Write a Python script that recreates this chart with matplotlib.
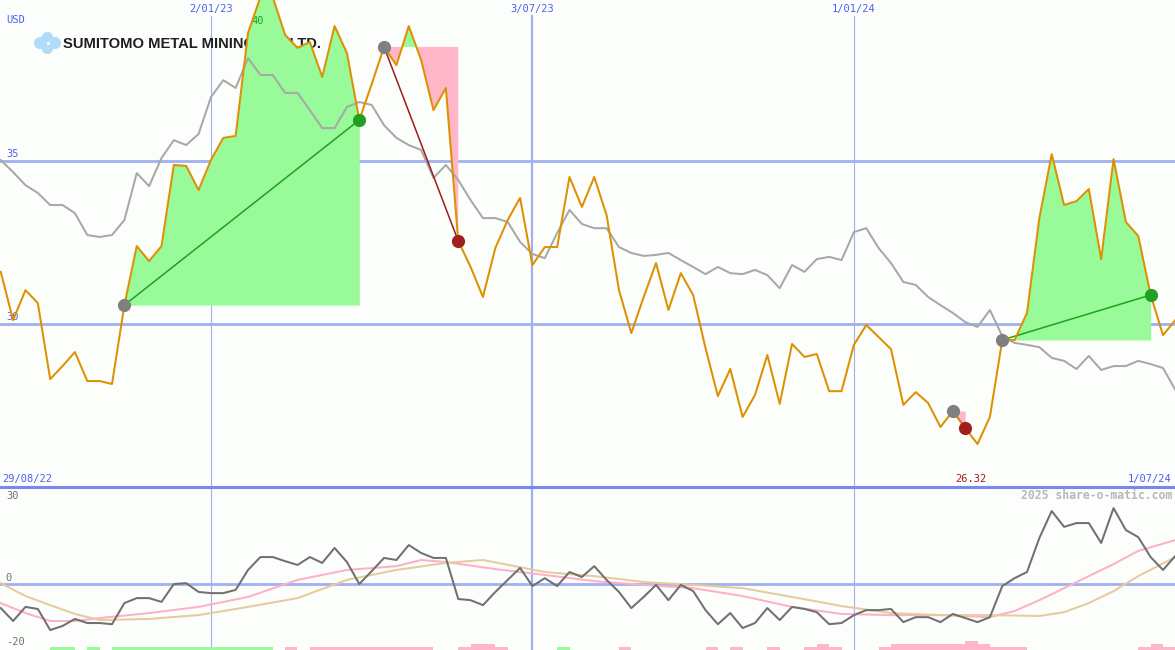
import numpy as np
import matplotlib
matplotlib.use('Agg')
import matplotlib.pyplot as plt
from matplotlib.lines import Line2D

# weekly closes (USD) from 5/09/22, week 0 = 29/08/22
weeks = np.arange(1, 97)
close = [
    31.60, 30.12, 31.04, 30.64, 28.31, 28.71, 29.14, 28.25, 28.25, 28.16, 30.58, 32.39,
    31.93, 32.39, 34.88, 34.85, 34.11, 35.03, 35.71, 35.77, 38.93, 40.03, 40.03, 38.87,
    38.47, 38.65, 37.58, 39.14, 38.31, 36.26, 37.36, 38.50, 37.94, 39.14, 38.10, 36.56,
    37.24, 32.55, 31.75, 30.83, 32.33, 33.19, 33.87, 31.81, 32.36, 32.36, 34.51, 33.59,
    34.51, 33.34, 31.04, 29.72, 30.83, 31.87, 30.43, 31.56, 30.89, 29.26, 27.79, 28.62,
    27.15, 27.82, 29.05, 27.55, 29.39, 28.99, 29.08, 27.94, 27.94, 29.36, 29.97, 29.60,
    29.23, 27.52, 27.91, 27.58, 26.84, 27.33, 26.81, 26.32, 27.15, 29.51, 29.51, 30.34,
    33.25, 35.21, 33.65, 33.77, 34.14, 31.99, 35.06, 33.13, 32.70, 30.89, 29.66, 30.12,
]
avg = [
    35.03, 34.66, 34.26, 34.02, 33.65, 33.65, 33.40, 32.73, 32.67, 32.73, 33.19, 34.63,
    34.23, 35.09, 35.64, 35.49, 35.83, 36.96, 37.48, 37.24, 38.16, 37.64, 37.64, 37.09,
    37.09, 36.56, 36.01, 36.01, 36.66, 36.81, 36.72, 36.10, 35.71, 35.49, 35.34, 34.48,
    34.88, 34.42, 33.80, 33.25, 33.25, 33.13, 32.52, 32.15, 32.02, 32.79, 33.50, 33.07,
    32.94, 32.94, 32.36, 32.18, 32.09, 32.12, 32.18, 31.96, 31.75, 31.53, 31.75, 31.56,
    31.53, 31.66, 31.50, 31.10, 31.81, 31.60, 31.99, 32.06, 31.96, 32.82, 32.94, 32.33,
    31.87, 31.29, 31.20, 30.83, 30.58, 30.34, 30.06, 29.91, 30.43, 29.63, 29.42, 29.36,
    29.29, 28.96, 28.87, 28.62, 29.02, 28.59, 28.71, 28.71, 28.87, 28.77, 28.65, 27.98,
]
momentum = [
    -8.2, -12.6, -7.8, -8.5, -15.7, -14.3, -11.9, -13.3, -13.3, -13.7, -6.5, -4.8,
    -4.8, -6.1, 0.0, 0.3, -2.7, -3.1, -3.1, -2.0, 4.8, 9.2, 9.2, 7.8,
    6.5, 9.2, 7.2, 12.3, 7.5, 0.0, 4.4, 8.9, 8.2, 13.3, 10.6, 8.9,
    8.9, -5.1, -5.5, -7.2, -2.7, 1.4, 5.5, -0.7, 2.0, -0.7, 4.1, 2.4,
    6.1, 1.4, -2.7, -8.2, -4.4, -0.3, -5.5, -0.3, -2.4, -8.9, -13.7, -9.9,
    -15.0, -13.3, -8.2, -12.3, -7.8, -8.5, -9.6, -13.7, -13.3, -10.6, -8.9, -8.9,
    -8.5, -13.0, -11.3, -11.3, -13.0, -10.2, -11.6, -13.0, -11.3, -0.7, 2.0, 4.1,
    15.7, 24.9, 19.5, 20.8, 20.8, 14.0, 25.9, 18.4, 16.0, 9.2, 4.8, 9.6,
]
fast_weeks = [1, 3, 5, 7, 9, 13, 17, 21, 25, 29, 33, 35, 37, 41, 45, 49, 53, 57, 61,
              65, 69, 73, 77, 81, 83, 85, 87, 89, 91, 93, 96]
fast_vals = [-6.5, -9.9, -12.6, -12.6, -11.6, -9.9, -7.8, -4.4, 1.4, 4.8, 6.1, 8.2, 7.5,
             5.1, 3.1, 1.0, -0.3, -1.4, -4.1, -7.8, -10.2, -10.6, -10.6, -11.3, -9.2,
             -5.5, -1.4, 2.7, 6.8, 11.3, 15.0]
slow_weeks = [1, 3, 5, 7, 9, 13, 17, 21, 25, 29, 33, 37, 40, 45, 49, 53, 57, 61, 65,
              69, 73, 77, 81, 85, 87, 89, 91, 93, 96]
slow_vals = [0.3, -4.1, -7.2, -10.2, -12.3, -11.9, -10.6, -7.8, -4.8, 1.4, 4.8, 7.2, 8.2,
             4.1, 2.7, 0.7, -0.3, -1.4, -4.4, -7.5, -9.9, -10.6, -10.6, -10.9, -9.6,
             -6.5, -2.4, 2.7, 9.2]
# +1 green, -1/-2/-3 pink (bar height)
signal = [
    0, 0, 0, 0, 1, 1, 0, 1, 0, 1, 1, 1,
    1, 1, 1, 1, 1, 1, 1, 1, 1, 1, 0, -1,
    0, -1, -1, -1, -1, -1, -1, -1, -1, -1, -1, 0,
    0, -1, -2, -2, -1, 0, 0, 0, 0, 1, 0, 0,
    0, 0, -1, 0, 0, 0, 0, 0, 0, -1, 0, -1,
    0, 0, -1, 0, 0, -1, -2, -1, 0, 0, 0, -1,
    -2, -2, -2, -2, -2, -2, -3, -2, -1, -1, -1, 0,
    0, 0, 0, 0, 0, 0, 0, 0, -1, -2, -1, 0,
]
trade_entry = [11, 32, 78, 82]
trade_exit = [30, 38, 79, 94]
date_weeks = [18, 44, 70]
date_labels = ['2/01/23', '3/07/23', '1/01/24']
date_lw = [0.8, 1.6, 0.8]

bg = '#fbfefb'
grid = '#a0b0f0'
blue_txt = '#4f5ff0'
mono = 'DejaVu Sans Mono'

close = np.array(close)
xlim = (0.94, 95.97)

fig = plt.figure(figsize=(11.75, 6.5), dpi=100)
fig.patch.set_facecolor(bg)
top = fig.add_axes([0, 163 / 650, 1, 487 / 650])
bot = fig.add_axes([0, 0, 1, 163 / 650])
for ax in (top, bot):
    ax.set_axis_off()
    ax.set_xlim(*xlim)
top.set_ylim(25.0, 39.94)
bot.set_ylim(-22.5, 33.1)

# grid
for lvl in (35, 30):
    top.axhline(lvl, color=grid, lw=2, zorder=1)
    top.text(0.005, lvl + 0.05, str(lvl), transform=top.get_yaxis_transform(),
             fontsize=7.5, family=mono, color=blue_txt, va='bottom', ha='left')
for w, lab, lw in zip(date_weeks, date_labels, date_lw):
    top.axvline(w, ymax=0.967, color=grid, lw=lw, zorder=1)
    bot.axvline(w, color=grid, lw=lw, zorder=1)
    top.text(w, 0.9815, lab, transform=top.get_xaxis_transform(), fontsize=7.5,
             family=mono, color=blue_txt, ha='center', va='center')
top.text(0.005, 0.959, 'USD', transform=top.transAxes, fontsize=7.5, family=mono,
         color=blue_txt, va='center')
top.text(0.0017, 0.0164, '29/08/22', transform=top.transAxes, fontsize=7.5, family=mono,
         color=blue_txt, va='center')
top.text(0.9974, 0.0164, '1/07/24', transform=top.transAxes, fontsize=7.5, family=mono,
         color=blue_txt, va='center', ha='right')
top.text(21.3, 0.957, '40', transform=top.get_xaxis_transform(), fontsize=7.5,
         family=mono, color='#20a020', va='center', zorder=2.5)

# logo
px = np.array([40, 55, 47.5, 47.5, 47.5]) / 1175
py = (487 - np.array([43, 43, 37.5, 48.5, 43])) / 487
top.scatter(px, py, s=[75, 75, 65, 65, 90], color='#b0dcf8', lw=0,
            transform=top.transAxes, zorder=1)
top.scatter([47.5 / 1175], [(487 - 43) / 487], s=5, color='white', lw=0,
            transform=top.transAxes, zorder=1)
top.text(63 / 1175, (487 - 44) / 487, 'SUMITOMO METAL MINING CO.,LTD.',
         transform=top.transAxes, fontsize=10.6, weight='bold',
         family='Liberation Sans', color='#202020',
         va='center', ha='left', zorder=1)

# trades
for e, x in zip(trade_entry, trade_exit):
    w = weeks[e - 1:x]
    p = close[e - 1:x]
    base = close[e - 1]
    top.fill_between(w, base, p, where=p >= base, interpolate=True,
                     color='#98fa98', lw=0, zorder=2)
    top.fill_between(w, base, p, where=p <= base, interpolate=True,
                     color='#ffb6c9', lw=0, zorder=2)
    win = close[x - 1] > base
    col = '#20a020' if win else '#a01c1c'
    top.plot([e, x], [base, close[x - 1]], color=col, lw=1.1, zorder=4)

top.plot(weeks, avg, color='#a8a8a8', lw=1.45, zorder=3)
top.plot(weeks, close, color='#dd9000', lw=1.45, zorder=5)

for e, x in zip(trade_entry, trade_exit):
    win = close[x - 1] > close[e - 1]
    top.plot(e, close[e - 1], 'o', ms=9.5, color='#808080', mec='none', zorder=6)
    top.plot(x, close[x - 1], 'o', ms=9.5, color='#20a020' if win else '#a02020',
             mec='none', zorder=6)

imin = int(np.argmin(close))
top.annotate(f'{close[imin]:.2f}', xy=(weeks[imin], 0.0164),
             xycoords=top.get_xaxis_transform(), xytext=(-5, 0),
             textcoords='offset points', fontsize=7.5, family=mono, color='#a01c1c',
             ha='center', va='center')

fig.add_artist(Line2D([0, 1], [163 / 650, 163 / 650], transform=fig.transFigure,
                      color='#7888f0', lw=2.2))

# lower panel
bot.axhline(0, color=grid, lw=2, zorder=1)
bot.plot(fast_weeks, fast_vals, color='#ffb0c8', lw=1.45, zorder=2)
bot.plot(slow_weeks, slow_vals, color='#e6cc9c', lw=1.45, zorder=2)
bot.plot(weeks, momentum, color='#707070', lw=1.45, zorder=3)
sig = np.array(signal)
bar_h = np.abs(sig) * 1.02
bar_c = ['#98fa98' if s > 0 else '#ffb6c9' for s in sig]
bot.bar(weeks, bar_h, width=1.0, align='edge', bottom=-22.6, color=bar_c, lw=0, zorder=2)

bot.text(0.005, 30, '30', transform=bot.get_yaxis_transform(), fontsize=7.5,
         family=mono, color='#707070', va='center')
bot.text(0.005, 0.4, '0', transform=bot.get_yaxis_transform(), fontsize=7.5,
         family=mono, color='#707070', va='bottom')
bot.text(0.005, -19.8, '-20', transform=bot.get_yaxis_transform(), fontsize=7.5,
         family=mono, color='#707070', va='center')
bot.text(0.9974, 0.945, '2025 share-o-matic.com', transform=bot.transAxes, fontsize=8.3,
         family=mono, weight='bold', color='#b8b8b8', ha='right', va='center')

plt.savefig('out.png', dpi=100, facecolor=bg)
plt.close()
